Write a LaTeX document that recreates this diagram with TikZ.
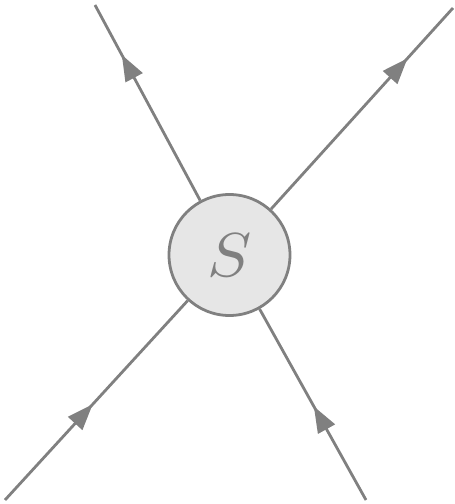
\documentclass[tikz,border=0pt]{standalone}
\usetikzlibrary{decorations.markings,arrows.meta}
\definecolor{lc}{RGB}{128,128,128}
\definecolor{fc}{RGB}{230,230,230}
\tikzset{
  vertex/.style={circle,draw=lc,fill=fc,line width=2.8pt,minimum size=121pt,inner sep=0pt,text=lc},
  leg/.style={draw=lc,line width=2.8pt},
  legarrow/.style={leg,postaction={decorate},decoration={markings,
    mark=at position #1 with {\arrow[lc]{Triangle[length=26pt,width=19pt]}}}}
}
\begin{document}
\begin{tikzpicture}[x=1pt,y=1pt]
\useasboundingbox (0,0) rectangle (455,504);
\node[vertex] (s) at (229.5,249) {\scalebox{6.6}[6.2]{$S$}};
\coordinate (tl) at (95,499);
\coordinate (tr) at (453,496);
\coordinate (bl) at (5,4);
\coordinate (br) at (366,4);
\draw[legarrow=0.745] (s) -- (tl);
\draw[legarrow=0.75] (s) -- (tr);
\draw[legarrow=0.48] (bl) -- (s);
\draw[legarrow=0.49] (br) -- (s);
\end{tikzpicture}
\end{document}
